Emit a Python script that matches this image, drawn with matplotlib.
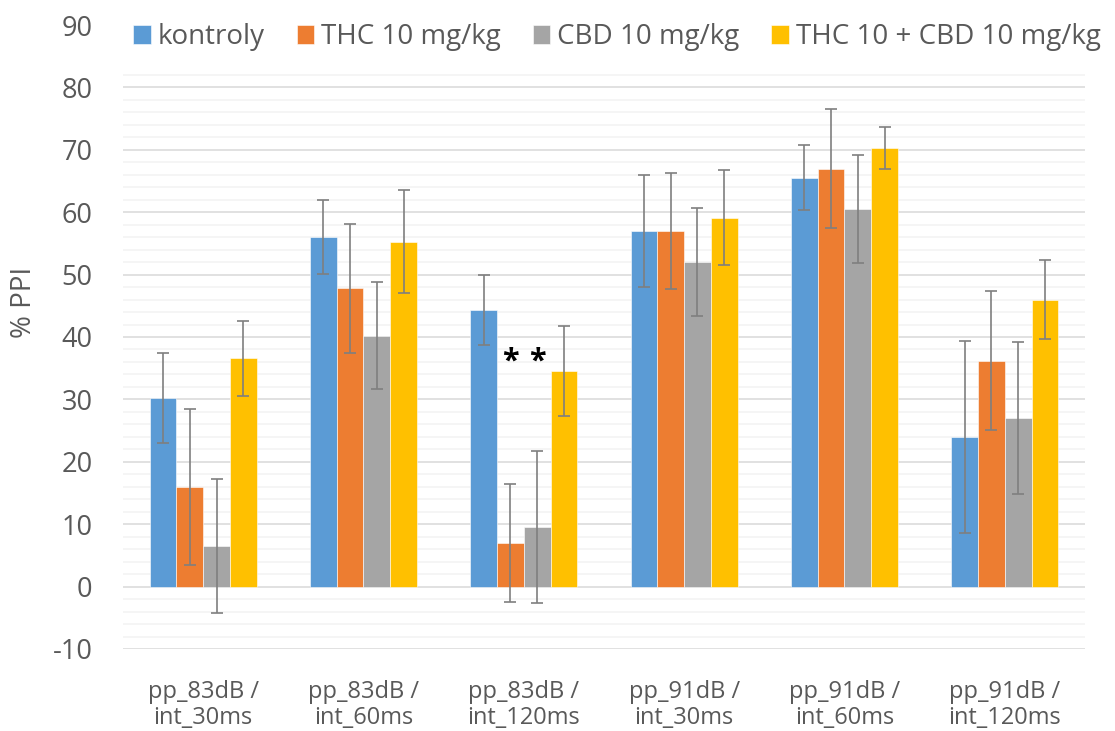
import matplotlib.pyplot as plt
import numpy as np

plt.rcParams['font.family'] = ['Open Sans', 'DejaVu Sans']
plt.rcParams['axes.unicode_minus'] = False

# data
groups = ['pp_83dB /\nint_30ms', 'pp_83dB /\nint_60ms', 'pp_83dB /\nint_120ms',
          'pp_91dB /\nint_30ms', 'pp_91dB /\nint_60ms', 'pp_91dB /\nint_120ms']
series = ['kontroly', 'THC 10 mg/kg', 'CBD 10 mg/kg', 'THC 10 + CBD 10 mg/kg']
colors = ['#5B9BD5', '#ED7D31', '#A5A5A5', '#FFC000']

kontroly = [30.2, 56.0, 44.3, 57.0, 65.5, 24.0]
thc = [16.0, 47.8, 7.0, 57.0, 67.0, 36.2]
cbd = [6.5, 40.2, 9.6, 52.0, 60.5, 27.0]
thc_cbd = [36.6, 55.3, 34.6, 59.1, 70.3, 46.0]

err_kontroly = [7.2, 5.9, 5.6, 9.0, 5.2, 15.4]
err_thc = [12.5, 10.3, 9.5, 9.3, 9.5, 11.1]
err_cbd = [10.8, 8.6, 12.2, 8.6, 8.6, 12.2]
err_thc_cbd = [6.0, 8.2, 7.2, 7.6, 3.3, 6.4]

# significance marks: (group index, series index, y)
sig_marks = [(2, 1, 36.0), (2, 2, 36.0)]

values = [kontroly, thc, cbd, thc_cbd]
errors = [err_kontroly, err_thc, err_cbd, err_thc_cbd]

txt = '#595959'
fig = plt.figure(figsize=(11.15, 7.31), dpi=100)
ax = fig.add_axes([0.1103, 0.1122, 0.8627, 0.8536])

x = np.arange(len(groups))
bw = 0.167
for i, (vals, errs) in enumerate(zip(values, errors)):
    ax.bar(x + (i - 1.5) * bw, vals, bw, color=colors[i], label=series[i],
           edgecolor='white', linewidth=0.4, zorder=2,
           yerr=errs, error_kw=dict(ecolor='#7F7F7F', elinewidth=1.2, capsize=4.3, capthick=1.2, zorder=3))

for g, s, yv in sig_marks:
    ax.text(x[g] + (s - 1.5) * bw, yv, '*', ha='center', va='center',
            fontsize=22, fontweight='bold', color='black', zorder=4)

ax.set_xlim(-0.5, len(groups) - 0.5)
ax.set_ylim(-10, 90)
ax.set_yticks(np.arange(-10, 91, 10))
ax.set_yticks(np.arange(-10, 83, 2), minor=True)
ax.grid(axis='y', which='major', color='#D9D9D9', linewidth=1.1, zorder=0)
ax.grid(axis='y', which='minor', color='#F2F2F2', linewidth=1.1, zorder=0)
ax.yaxis.get_gridlines()[-1].set_visible(False)
ax.set_axisbelow(True)
for sp in ax.spines.values():
    sp.set_visible(False)
ax.tick_params(axis='both', which='both', length=0)
ax.tick_params(axis='y', labelsize=19.5, labelcolor=txt, pad=22)
ax.set_xticks(x)
ax.set_xticklabels(groups, fontsize=17, color=txt, linespacing=1.15)
ax.tick_params(axis='x', pad=22)
fig.text(24 / 1115, 1 - 302 / 731, '% PPI', rotation=90, ha='center', va='center',
         fontsize=20, color=txt)

leg = fig.legend(loc='center', bbox_to_anchor=(0.5534, 0.949), ncol=4, frameon=False,
                 fontsize=20, handlelength=0.63, handleheight=0.63, handletextpad=0.25,
                 columnspacing=1.15, borderpad=0.2)
for t in leg.get_texts():
    t.set_color(txt)

fig.savefig('out.png', dpi=100)
